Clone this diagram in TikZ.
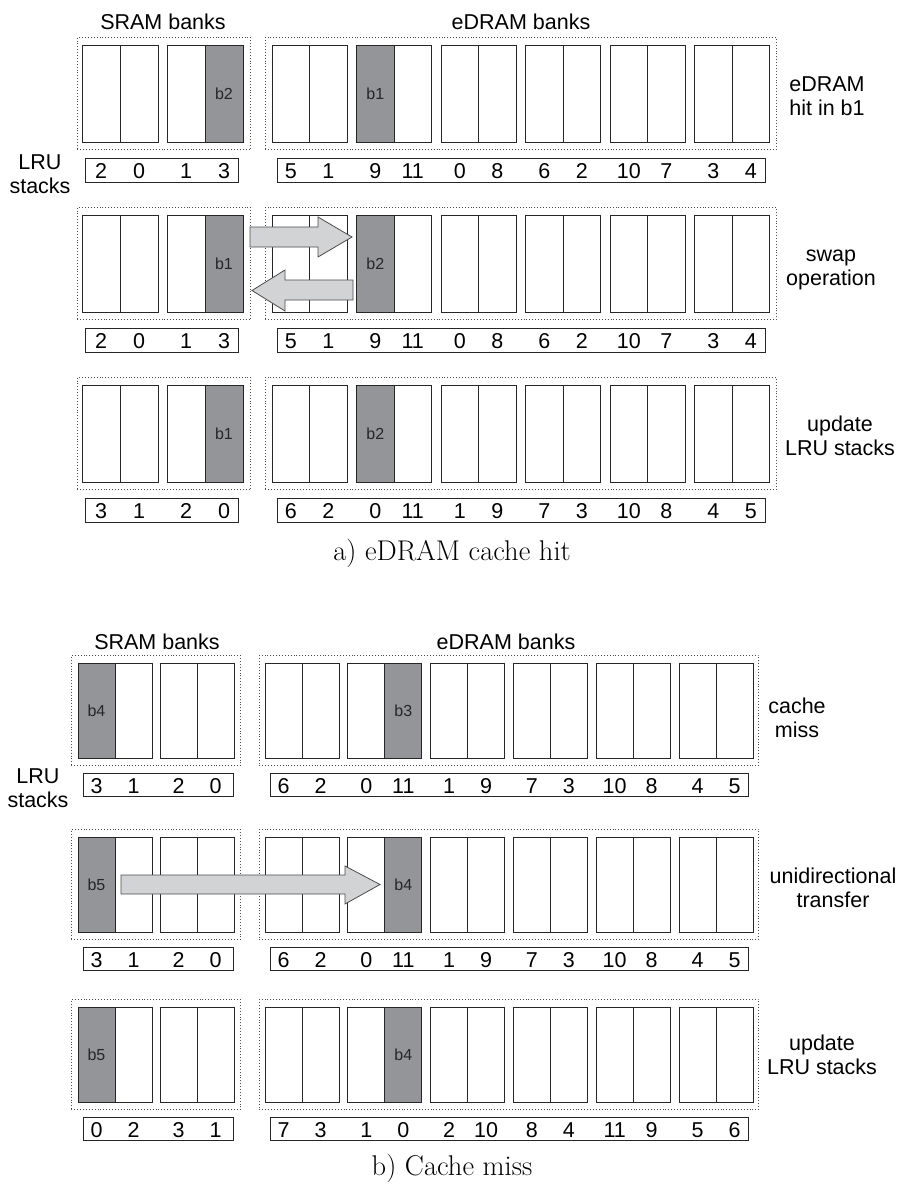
\documentclass[tikz,border=0pt]{standalone}
\usepackage{fontspec}
\newfontfamily\arial{Liberation Sans}
\definecolor{bankgray}{HTML}{939598}
\definecolor{arrowgray}{HTML}{D1D3D4}
\tikzset{
  half/.style={draw=black!85, line width=0.95pt, fill=white, rectangle, anchor=north west, inner sep=0pt, outer sep=0pt},
  shadedhalf/.style={half, fill=bankgray},
  dotbox/.style={draw=black!70, dotted, line width=0.9pt, rectangle, anchor=north west, inner sep=0pt},
  lrubox/.style={draw=black!85, line width=1.1pt, rectangle, anchor=north west, inner sep=0pt},
  num/.style={font=\arial\fontsize{21.5}{24}\selectfont, inner sep=0pt, anchor=base},
  lbl/.style={font=\arial\fontsize{21.5}{24}\selectfont, align=center, inner sep=0pt},
  blk/.style={font=\arial\fontsize{16}{18}\selectfont, text=black!85, inner sep=0pt},
  barrow/.style={fill=arrowgray, draw=black!70, line width=0.8pt, line join=miter},
  captext/.style={font=\fontsize{28.5}{32}\selectfont, inner sep=0pt},
}
% #1 prefix, #2 top, #3 sram nums, #4 edram nums, #5 shaded sram half, #6 shaded edram half, #7 sram label, #8 edram label
\newcommand{\cellrow}[8]{%
  \pgfmathsetmacro{\sh}{\sramw/2}
  \pgfmathsetmacro{\eh}{\edramw/2}
  \node[dotbox, minimum width={\sda-\sdb}, minimum height={\bankh+15}] (#1-sdot) at (\sdb,#2-8) {};
  \node[dotbox, minimum width={\eda-\edb}, minimum height={\bankh+15}] (#1-edot) at (\edb,#2-8) {};
  \foreach \h in {0,...,3}{
    \pgfmathsetmacro{\xx}{\sramx+int(\h/2)*\srampitch+mod(\h,2)*\sh}
    \node[half, minimum width=\sh, minimum height=\bankh] (#1-s\h) at (\xx,#2) {};
  }
  \foreach \h in {0,...,11}{
    \pgfmathsetmacro{\xx}{\edramx+int(\h/2)*\edrampitch+mod(\h,2)*\eh}
    \node[half, minimum width=\eh, minimum height=\bankh] (#1-e\h) at (\xx,#2) {};
  }
  \pgfmathsetmacro{\xs}{\sramx+int(#5/2)*\srampitch+mod(#5,2)*\sh}
  \node[shadedhalf, minimum width=\sh, minimum height=\bankh] (#1-ssh) at (\xs,#2) {};
  \node[blk] (#1-sshl) at (\xs+\sh/2,#2+\bankh/2) {#7};
  \pgfmathsetmacro{\xe}{\edramx+int(#6/2)*\edrampitch+mod(#6,2)*\eh}
  \node[shadedhalf, minimum width=\eh, minimum height=\bankh] (#1-esh) at (\xe,#2) {};
  \node[blk] (#1-eshl) at (\xe+\eh/2,#2+\bankh/2) {#8};
  \node[lrubox, minimum width={\sla-\slb}, minimum height=\lruh] (#1-slru) at (\slb,#2+\lrut) {};
  \node[lrubox, minimum width={\ela-\elb}, minimum height=\lruh] (#1-elru) at (\elb,#2+\lrut) {};
  \pgfmathsetmacro{\yb}{#2+\lrut+\lruh/2+8.5}
  \foreach \n [count=\c from 0] in {#3}{
    \pgfmathsetmacro{\xx}{\sramx+int(\c/2)*\srampitch+mod(\c,2)*\sh+\sh/2}
    \node[num] (#1-sn\c) at (\xx,\yb) {\n};
  }
  \foreach \n [count=\c from 0] in {#4}{
    \pgfmathsetmacro{\xx}{\edramx+int(\c/2)*\edrampitch+mod(\c,2)*\eh+\eh/2}
    \node[num] (#1-en\c) at (\xx,\yb) {\n};
  }
}
\begin{document}
\begin{tikzpicture}[x=1pt,y=-1pt]
\useasboundingbox (0,0) rectangle (898,1184);
% ---------- part a ----------
\def\sramx{82}\def\srampitch{85}\def\sramw{76}
\def\edramx{272}\def\edrampitch{84.5}\def\edramw{75}\def\bankh{97}
\def\sdb{77}\def\sda{250}\def\edb{265}\def\eda{776}
\def\slb{85}\def\sla{238}\def\elb{277}\def\ela{765}\def\lrut{113}\def\lruh{24}
\cellrow{a1}{45}{2,0,1,3}{5,1,9,11,0,8,6,2,10,7,3,4}{3}{2}{b2}{b1}
\cellrow{a2}{215}{2,0,1,3}{5,1,9,11,0,8,6,2,10,7,3,4}{3}{2}{b1}{b2}
\cellrow{a3}{385}{3,1,2,0}{6,2,0,11,1,9,7,3,10,8,4,5}{3}{2}{b1}{b2}
\node[lbl] (asram) at (163,22) {SRAM banks};
\node[lbl] (aedram) at (521,22) {eDRAM banks};
\node[lbl] (alru) at (40,174) {LRU\\stacks};
\node[lbl] (at1) at (827,96) {eDRAM\\hit in b1};
\node[lbl] (at2) at (831,270) {swap\\operation};
\node[lbl] (at3) at (840,436) {update\\LRU stacks};
\draw[barrow] (250,227) -- (318,227) -- (318,217) -- (352,237) -- (318,257) -- (318,247) -- (250,247) -- cycle;
\draw[barrow] (353,280) -- (285,280) -- (285,270) -- (252,290.5) -- (285,311) -- (285,300) -- (353,300) -- cycle;
\node[captext] (capa) at (452,553) {a) eDRAM cache hit};
% ---------- part b ----------
\def\sramx{78}\def\srampitch{82}\def\sramw{74}
\def\edramx{265}\def\edrampitch{82.8}\def\edramw{74}\def\bankh{95}
\def\sdb{71}\def\sda{240}\def\edb{259}\def\eda{758}
\def\slb{83}\def\sla{233}\def\elb{270}\def\ela{748}\def\lrut{110}\def\lruh{23}
\cellrow{b1}{663}{3,1,2,0}{6,2,0,11,1,9,7,3,10,8,4,5}{0}{3}{b4}{b3}
\cellrow{b2}{837}{3,1,2,0}{6,2,0,11,1,9,7,3,10,8,4,5}{0}{3}{b5}{b4}
\cellrow{b3}{1007}{0,2,3,1}{7,3,1,0,2,10,8,4,11,9,5,6}{0}{3}{b5}{b4}
\node[lbl] (bsram) at (157,642) {SRAM banks};
\node[lbl] (bedram) at (506,642) {eDRAM banks};
\node[lbl] (blru) at (38,788) {LRU\\stacks};
\node[lbl] (bt1) at (797,718) {cache\\miss};
\node[lbl] (bt2) at (833,888) {unidirectional\\transfer};
\node[lbl] (bt3) at (822,1055) {update\\LRU stacks};
\draw[barrow] (121,875) -- (345,875) -- (345,866) -- (380,884.5) -- (345,904) -- (345,894) -- (121,894) -- cycle;
\node[captext] (capb) at (452,1168) {b) Cache miss};
\end{tikzpicture}
\end{document}
